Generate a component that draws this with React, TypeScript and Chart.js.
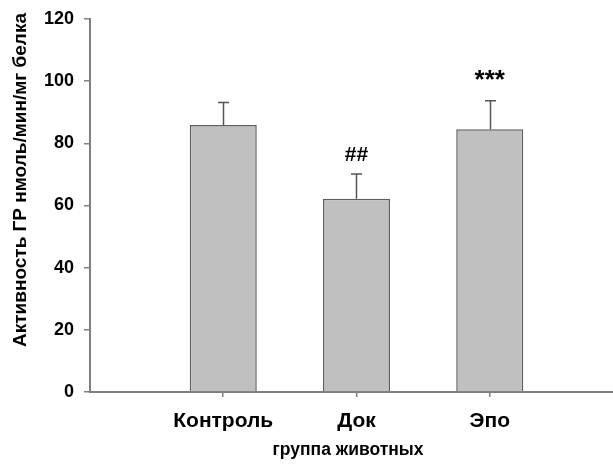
import React, { useEffect, useRef } from "react";
import { Chart, registerables } from "chart.js";

Chart.register(...registerables);

const categories = ["Контроль", "Док", "Эпо"];
const positions = [1, 2, 3];
const means = [85.9, 62.2, 84.5];
const errors = [7.2, 7.9, 9.2];
const marks = ["", "##", "***"];
const yTicks = [0, 20, 40, 60, 80, 100, 120];
const yTitle = "Активность ГР нмоль/мин/мг белка";
const xTitle = "группа животных";

const FONT = "'Liberation Sans', Arial, sans-serif";

const overlay = {
  id: "overlay",
  afterDatasetsDraw(chart: any) {
    const { ctx, scales } = chart;
    const xs = scales.x;
    const ys = scales.y;
    ctx.save();
    ctx.strokeStyle = "#555555";
    ctx.lineWidth = 1.5;
    positions.forEach((p, i) => {
      const x = Math.round(xs.getPixelForValue(p)) + 0.5;
      const y0 = ys.getPixelForValue(means[i]);
      const y1 = ys.getPixelForValue(means[i] + errors[i]);
      ctx.beginPath();
      ctx.moveTo(x, y0);
      ctx.lineTo(x, y1);
      ctx.moveTo(x - 5.5, y1);
      ctx.lineTo(x + 5.5, y1);
      ctx.stroke();
    });
    ctx.fillStyle = "#000";
    ctx.textAlign = "center";
    ctx.textBaseline = "alphabetic";
    positions.forEach((p, i) => {
      if (!marks[i]) return;
      const x = xs.getPixelForValue(p);
      const y1 = ys.getPixelForValue(means[i] + errors[i]);
      const size = marks[i].startsWith("*") ? 26 : 21;
      ctx.font = `bold ${size}px ${FONT}`;
      ctx.fillText(marks[i], x, y1 - 13);
    });
    ctx.restore();
  },
  afterDraw(chart: any) {
    const { ctx } = chart;
    ctx.save();
    ctx.fillStyle = "#000";
    ctx.textAlign = "center";
    ctx.textBaseline = "middle";
    ctx.font = `bold 19px ${FONT}`;
    ctx.translate(21, 180);
    ctx.rotate(-Math.PI / 2);
    ctx.fillText(yTitle, 0, 0);
    ctx.restore();
    ctx.save();
    ctx.fillStyle = "#000";
    ctx.textAlign = "center";
    ctx.textBaseline = "middle";
    ctx.font = `bold 17.5px ${FONT}`;
    ctx.fillText(xTitle, 348, 450);
    ctx.restore();
  },
};

export default function App() {
  const ref = useRef<HTMLCanvasElement>(null);
  useEffect(() => {
    if (!ref.current) return;
    const chart = new Chart(ref.current, {
      type: "bar",
      data: {
        datasets: [
          {
            data: positions.map((p, i) => ({ x: p, y: means[i] })),
            backgroundColor: "#c0c0c0",
            borderColor: "#5f5f5f",
            borderWidth: 1.5,
            barPercentage: 0.503,
            categoryPercentage: 1,
          },
        ],
      },
      options: {
        animation: false,
        responsive: false,
        maintainAspectRatio: false,
        layout: { padding: { top: 19, left: 0, right: 0, bottom: 0 } },
        plugins: { legend: { display: false }, tooltip: { enabled: false } },
        scales: {
          x: {
            type: "linear",
            min: 0,
            max: 3.925,
            offset: false,
            afterBuildTicks: (scale: any) => {
              scale.ticks = positions.map((v) => ({ value: v }));
            },
            afterFit: (scale: any) => {
              scale.height = 74;
              scale.paddingLeft = 0;
              scale.paddingRight = 0;
            },
            ticks: {
              autoSkip: false,
              maxRotation: 0,
              padding: 12,
              color: "#000",
              font: { family: FONT, size: 21, weight: "bold" },
              callback: (v: any) => {
                const i = positions.indexOf(Number(v));
                return i >= 0 ? categories[i] : "";
              },
            },
            grid: {
              offset: false,
              drawOnChartArea: false,
              drawTicks: true,
              tickLength: 5,
              color: "#808080",
              lineWidth: 1.5,
            },
            border: { display: true, color: "#7f7f7f", width: 2 },
          },
          y: {
            min: 0,
            max: 120,
            afterBuildTicks: (scale: any) => {
              scale.ticks = yTicks.map((v) => ({ value: v }));
            },
            afterFit: (scale: any) => {
              scale.width = 90;
              scale.paddingTop = 0;
              scale.paddingBottom = 0;
            },
            ticks: {
              padding: 10,
              color: "#000",
              font: { family: FONT, size: 18, weight: "bold" },
            },
            grid: {
              drawOnChartArea: false,
              drawTicks: true,
              tickLength: 6,
              color: "#808080",
              lineWidth: 1.5,
            },
            border: { display: true, color: "#7f7f7f", width: 2 },
          },
        },
      },
      plugins: [overlay],
    } as any);
    return () => chart.destroy();
  }, []);
  return (
    <div style={{ position: "fixed", left: 0, top: 0, width: 613, height: 466, background: "#fff" }}>
      <canvas ref={ref} width={613} height={466} style={{ width: 613, height: 466, display: "block" }} />
    </div>
  );
}
